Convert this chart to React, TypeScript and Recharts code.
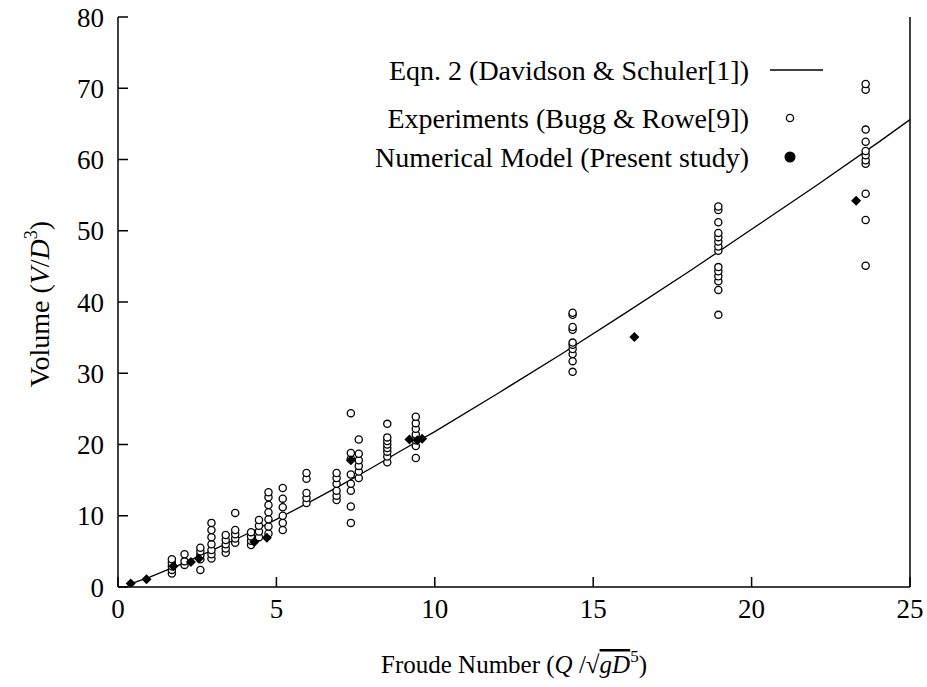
import React from "react";
import { ScatterChart, Scatter, XAxis, YAxis, Label } from "recharts";

// Eqn. 2 curve
const curveFr = [0.3, 1, 2, 3, 4, 5, 6, 7, 8, 9, 10, 12, 14, 16, 18, 20, 22, 24, 25];
const curveVol = [0.3, 1.4, 3.2, 5.2, 7.3, 9.5, 11.8, 14.2, 16.7, 19.3, 21.8, 27.2, 32.7, 38.4, 44.2, 50.2, 56.2, 62.4, 65.6];

// Experiments (Bugg & Rowe), one column of points per Froude number
const expFr = [1.7, 2.1, 2.6, 2.95, 3.4, 3.7, 4.2, 4.45, 4.75, 5.2, 5.95, 6.9, 7.35, 7.6, 8.5, 9.4, 14.35, 18.95, 23.6];
const expVol = [
  [1.9, 2.4, 2.9, 3.4, 3.9],
  [3.1, 3.6, 4.6],
  [2.4, 3.9, 4.5, 5.0, 5.5],
  [4.0, 4.6, 5.2, 6.0, 7.0, 8.0, 9.0],
  [4.8, 5.4, 6.0, 6.6, 7.3],
  [6.2, 6.8, 7.4, 8.0, 10.4],
  [5.9, 6.5, 7.1, 7.7],
  [7.0, 7.8, 8.6, 9.4],
  [7.5, 8.5, 9.5, 10.5, 11.5, 12.6, 13.3],
  [8.0, 9.0, 10.0, 11.2, 12.4, 13.9],
  [11.8, 12.5, 13.2, 15.2, 16.0],
  [12.2, 12.8, 13.5, 14.5, 15.3, 16.0],
  [9.0, 11.3, 13.5, 14.5, 15.8, 18.0, 18.8, 24.4],
  [15.3, 16.2, 17.0, 17.8, 18.7, 20.7],
  [17.5, 18.3, 19.0, 19.5, 20.0, 20.5, 21.0, 22.9],
  [18.1, 19.8, 20.6, 21.4, 22.2, 23.0, 23.9],
  [30.2, 31.7, 32.7, 33.4, 34.0, 34.3, 36.1, 36.5, 38.2, 38.5],
  [38.2, 41.7, 42.9, 43.6, 44.3, 44.9, 47.2, 47.8, 48.5, 49.1, 49.7, 51.2, 52.9, 53.4],
  [45.1, 51.5, 55.2, 59.4, 59.9, 60.6, 61.2, 62.5, 64.2, 69.8, 70.6],
];

// Numerical model (present study)
const numFr = [0.4, 0.9, 1.75, 2.3, 2.55, 4.3, 4.7, 7.35, 9.2, 9.45, 9.6, 16.3, 23.3];
const numVol = [0.5, 1.1, 2.9, 3.5, 4.0, 6.3, 6.9, 17.8, 20.7, 20.6, 20.8, 35.1, 54.2];

const xTicks = [0, 5, 10, 15, 20, 25];
const yTicks = [0, 10, 20, 30, 40, 50, 60, 70, 80];

const FONT = "'Liberation Serif', 'Times New Roman', serif";

const curveData = curveFr.map((x, i) => ({ x, y: curveVol[i] }));
const expData = expFr.flatMap((x, i) => expVol[i].map((y) => ({ x, y })));
const numData = numFr.map((x, i) => ({ x, y: numVol[i] }));

const OpenCircle = (p: any) => (
  <circle cx={p.cx} cy={p.cy} r={3.6} fill="#fff" stroke="#000" strokeWidth={1.3} />
);

const Diamond = (p: any) => {
  const s = 5;
  return (
    <polygon
      points={`${p.cx},${p.cy - s} ${p.cx + s},${p.cy} ${p.cx},${p.cy + s} ${p.cx - s},${p.cy}`}
      fill="#000"
    />
  );
};

const NoDot = () => <g />;

const tickStyle = { fill: "#000", fontSize: 27, fontFamily: FONT };

const XTitle = (props: any) => {
  const vb = props.viewBox;
  return (
    <text x={vb.x + vb.width / 2} y={673} textAnchor="middle" fontSize={25} fontFamily={FONT} fill="#000">
      <tspan>Froude Number (</tspan>
      <tspan fontStyle="italic">Q</tspan>
      <tspan> /√</tspan>
      <tspan fontStyle="italic" textDecoration="overline">gD</tspan>
      <tspan dy={-11} fontSize={17}>5</tspan>
      <tspan dy={11}>)</tspan>
    </text>
  );
};

const YTitle = () => (
  <text x={0} y={0} transform="translate(49,304) rotate(-90)" textAnchor="middle" fontSize={28} fontFamily={FONT} fill="#000">
    <tspan>Volume (</tspan>
    <tspan fontStyle="italic">V</tspan>
    <tspan>/</tspan>
    <tspan fontStyle="italic">D</tspan>
    <tspan dy={-12} fontSize={18}>3</tspan>
    <tspan dy={12}>)</tspan>
  </text>
);

const legendRows = [
  { label: "Eqn. 2 (Davidson & Schuler[1])", y: 70, kind: "line" },
  { label: "Experiments (Bugg & Rowe[9])", y: 118, kind: "open" },
  { label: "Numerical Model (Present study)", y: 157, kind: "filled" },
];

export default function App() {
  return (
    <div style={{ position: "relative", width: 927, height: 687, background: "#fff", overflow: "hidden" }}>
      <style>{"html,body{margin:0;padding:0;overflow:hidden;}"}</style>
      <ScatterChart width={927} height={687} margin={{ top: 17, right: 16, bottom: 0, left: 0 }}>
        <XAxis
          xAxisId="b"
          type="number"
          dataKey="x"
          domain={[0, 25]}
          ticks={xTicks}
          height={100}
          tickSize={-10}
          tickMargin={22}
          stroke="#000"
          strokeWidth={1.5}
          tick={tickStyle}
          allowDataOverflow
        >
          <Label content={<XTitle />} />
        </XAxis>
        <XAxis
          xAxisId="t"
          orientation="top"
          type="number"
          dataKey="x"
          domain={[0, 25]}
          ticks={xTicks}
          height={0}
          tickSize={-10}
          tick={false}
          stroke="#000"
          strokeWidth={1.5}
          allowDataOverflow
        />
        <YAxis
          yAxisId="l"
          type="number"
          dataKey="y"
          domain={[0, 80]}
          ticks={yTicks}
          width={118}
          tickSize={-10}
          tickMargin={24}
          stroke="#000"
          strokeWidth={1.5}
          tick={tickStyle}
          allowDataOverflow
        >
          <Label content={<YTitle />} />
        </YAxis>
        <YAxis
          yAxisId="r"
          orientation="right"
          type="number"
          dataKey="y"
          domain={[0, 80]}
          ticks={yTicks}
          width={1}
          tickSize={-10}
          tick={false}
          stroke="#000"
          strokeWidth={1.5}
          allowDataOverflow
        />
        <Scatter
          xAxisId="b"
          yAxisId="l"
          data={curveData}
          line={{ stroke: "#000", strokeWidth: 1.3 }}
          lineType="joint"
          shape={<NoDot />}
          isAnimationActive={false}
        />
        <Scatter xAxisId="b" yAxisId="l" data={expData} shape={<OpenCircle />} isAnimationActive={false} />
        <Scatter xAxisId="b" yAxisId="l" data={numData} shape={<Diamond />} isAnimationActive={false} />
      </ScatterChart>
      <svg width={927} height={200} style={{ position: "absolute", left: 0, top: 0, pointerEvents: "none" }}>
        {legendRows.map((r) => (
          <g key={r.label}>
            <text x={749} y={r.y} dy="0.35em" textAnchor="end" fontSize={28} fontFamily={FONT} fill="#000">
              {r.label}
            </text>
            {r.kind === "line" && <line x1={770} x2={823} y1={r.y} y2={r.y} stroke="#000" strokeWidth={1.3} />}
            {r.kind === "open" && <circle cx={790} cy={r.y} r={3.6} fill="#fff" stroke="#000" strokeWidth={1.3} />}
            {r.kind === "filled" && <circle cx={790} cy={r.y} r={5.5} fill="#000" />}
          </g>
        ))}
      </svg>
    </div>
  );
}
